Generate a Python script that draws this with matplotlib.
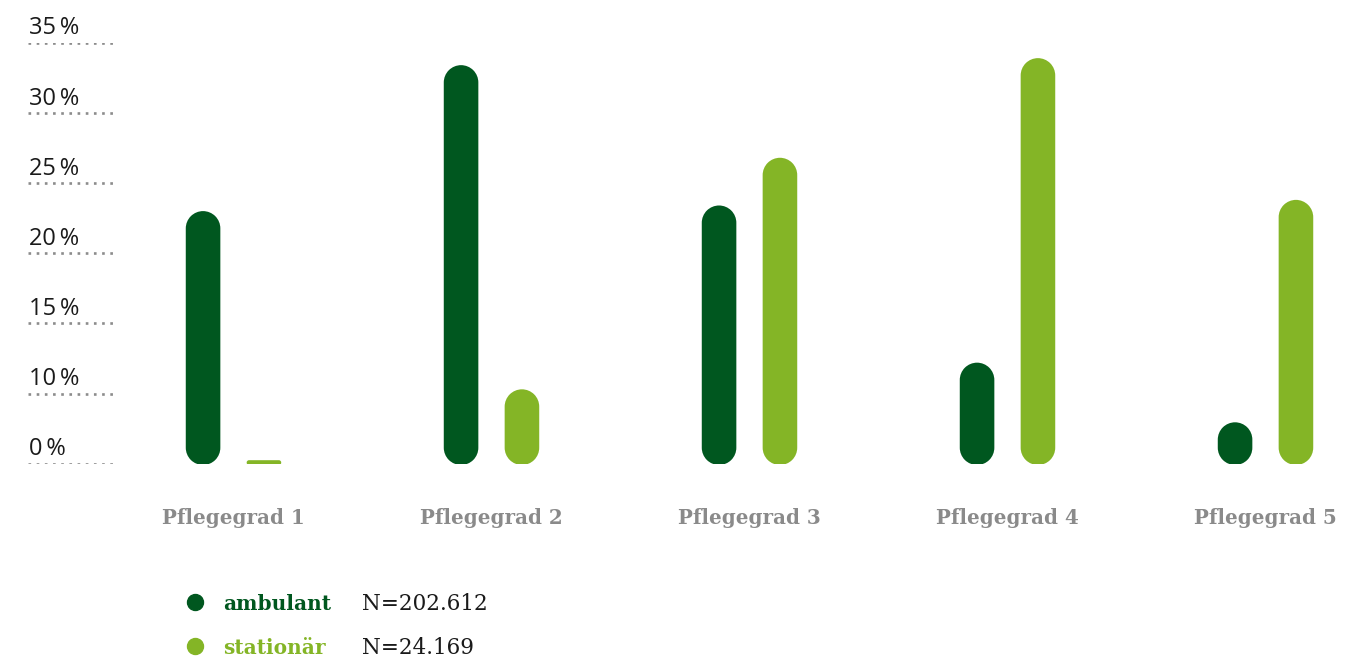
import numpy as np
import matplotlib
matplotlib.use("Agg")
import matplotlib.pyplot as plt
from matplotlib.patches import PathPatch
from matplotlib.path import Path
from matplotlib.transforms import IdentityTransform

# Anteile je Pflegegrad in Prozent
categories = ["Pflegegrad 1", "Pflegegrad 2", "Pflegegrad 3", "Pflegegrad 4", "Pflegegrad 5"]
ambulant = [23.0, 33.4, 23.4, 12.2, 5.9]
stationaer = [0.5, 10.3, 26.8, 33.9, 23.8]
yticks = [0, 10, 15, 20, 25, 30, 35]
ytick_labels = ["0\u2009%", "10\u2009%", "15\u2009%", "20\u2009%", "25\u2009%", "30\u2009%", "35\u2009%"]
series_names = ["ambulant", "stationär"]
series_n = ["N=202.612", "N=24.169"]

dark_green = "#00571f"
light_green = "#84b526"
grey = "#8a8a8a"

W, H = 1364, 662
fig = plt.figure(figsize=(W / 100, H / 100), dpi=100)
ax = fig.add_axes([0, (H - 463.7) / H, 1, 421 / H])


# y-Achse: 0-10 % auf einer Stufe, danach 5 %-Schritte
def fwd(v):
    v = np.asarray(v, dtype=float)
    return np.where(v <= 10, v / 10, 1 + (v - 10) / 5)


def inv(u):
    u = np.asarray(u, dtype=float)
    return np.where(u <= 1, u * 10, 10 + (u - 1) * 5)


ax.set_yscale("function", functions=(fwd, inv))
ax.set_ylim(0, 35)
ax.set_xlim(-233.5 / 258, (W - 233.5) / 258)
ax.axis("off")

# gepunktete Hilfslinien mit Beschriftung
for t, lab in zip(yticks, ytick_labels):
    ax.axhline(t, xmin=28 / W, xmax=114 / W, color="#8c8c8c", lw=1.9,
               ls=(0, (1, 2.1)))
    ax.annotate(lab, xy=(29 / W, t), xycoords=ax.get_yaxis_transform(),
                xytext=(0, 6), textcoords="offset points", ha="left",
                va="baseline", fontsize=17, family="Open Sans", color="#1a1a1a")


def arc(t1, t2, c, r):
    a = Path.arc(t1, t2)
    return a.vertices * r + np.asarray(c), a.codes.copy()


def pill(x0, y0, x1, y1, col):
    # Rechteck mit halbkreisförmigen Enden, in Pixeln
    w, h = x1 - x0, y1 - y0
    if h >= w:
        r = w / 2
        cx = x0 + r
        v1, c1 = arc(0, 180, (cx, y1 - r), r)
        v2, c2 = arc(180, 360, (cx, y0 + r), r)
    else:
        r = h / 2
        cy = y0 + r
        v1, c1 = arc(-90, 90, (x1 - r, cy), r)
        v2, c2 = arc(90, 270, (x0 + r, cy), r)
    c2[0] = Path.LINETO
    verts = np.vstack([v1, v2, v1[:1]])
    codes = np.concatenate([c1, c2, [Path.CLOSEPOLY]])
    ax.add_patch(PathPatch(Path(verts, codes), fc=col, ec="none",
                           transform=IdentityTransform()))


# Balken
bar_w = 0.134
offset = 0.118
fig.canvas.draw()
for i in range(len(categories)):
    for vals, col, dx in ((ambulant, dark_green, -offset), (stationaer, light_green, offset)):
        (x0, y0), (x1, y1) = ax.transData.transform(
            [(i + dx - bar_w / 2, 0), (i + dx + bar_w / 2, vals[i])])
        pill(x0, y0 - 1.3, x1, y1, col)
    ax.annotate(categories[i], xy=(i, 0), xytext=(0, -39),
                textcoords="offset points", ha="center", va="center",
                fontsize=14.3, fontweight="bold", family="DejaVu Serif", color=grey)

# Legende
for k, (name, n, col) in enumerate(zip(series_names, series_n, (dark_green, light_green))):
    yp = (H - (602 + 44 * k)) / H
    fig.lines.append(plt.Line2D([194.5 / W], [yp], marker="o", ms=11.5, color=col,
                                transform=fig.transFigure))
    fig.text(223 / W, yp, name, ha="left", va="center_baseline", fontsize=14.5,
             fontweight="bold", family="DejaVu Serif", color=col)
    fig.text(362 / W, yp, n, ha="left", va="center_baseline", fontsize=15.5,
             family="DejaVu Serif", color="#1a1a1a")

fig.savefig("out.png", dpi=100)
